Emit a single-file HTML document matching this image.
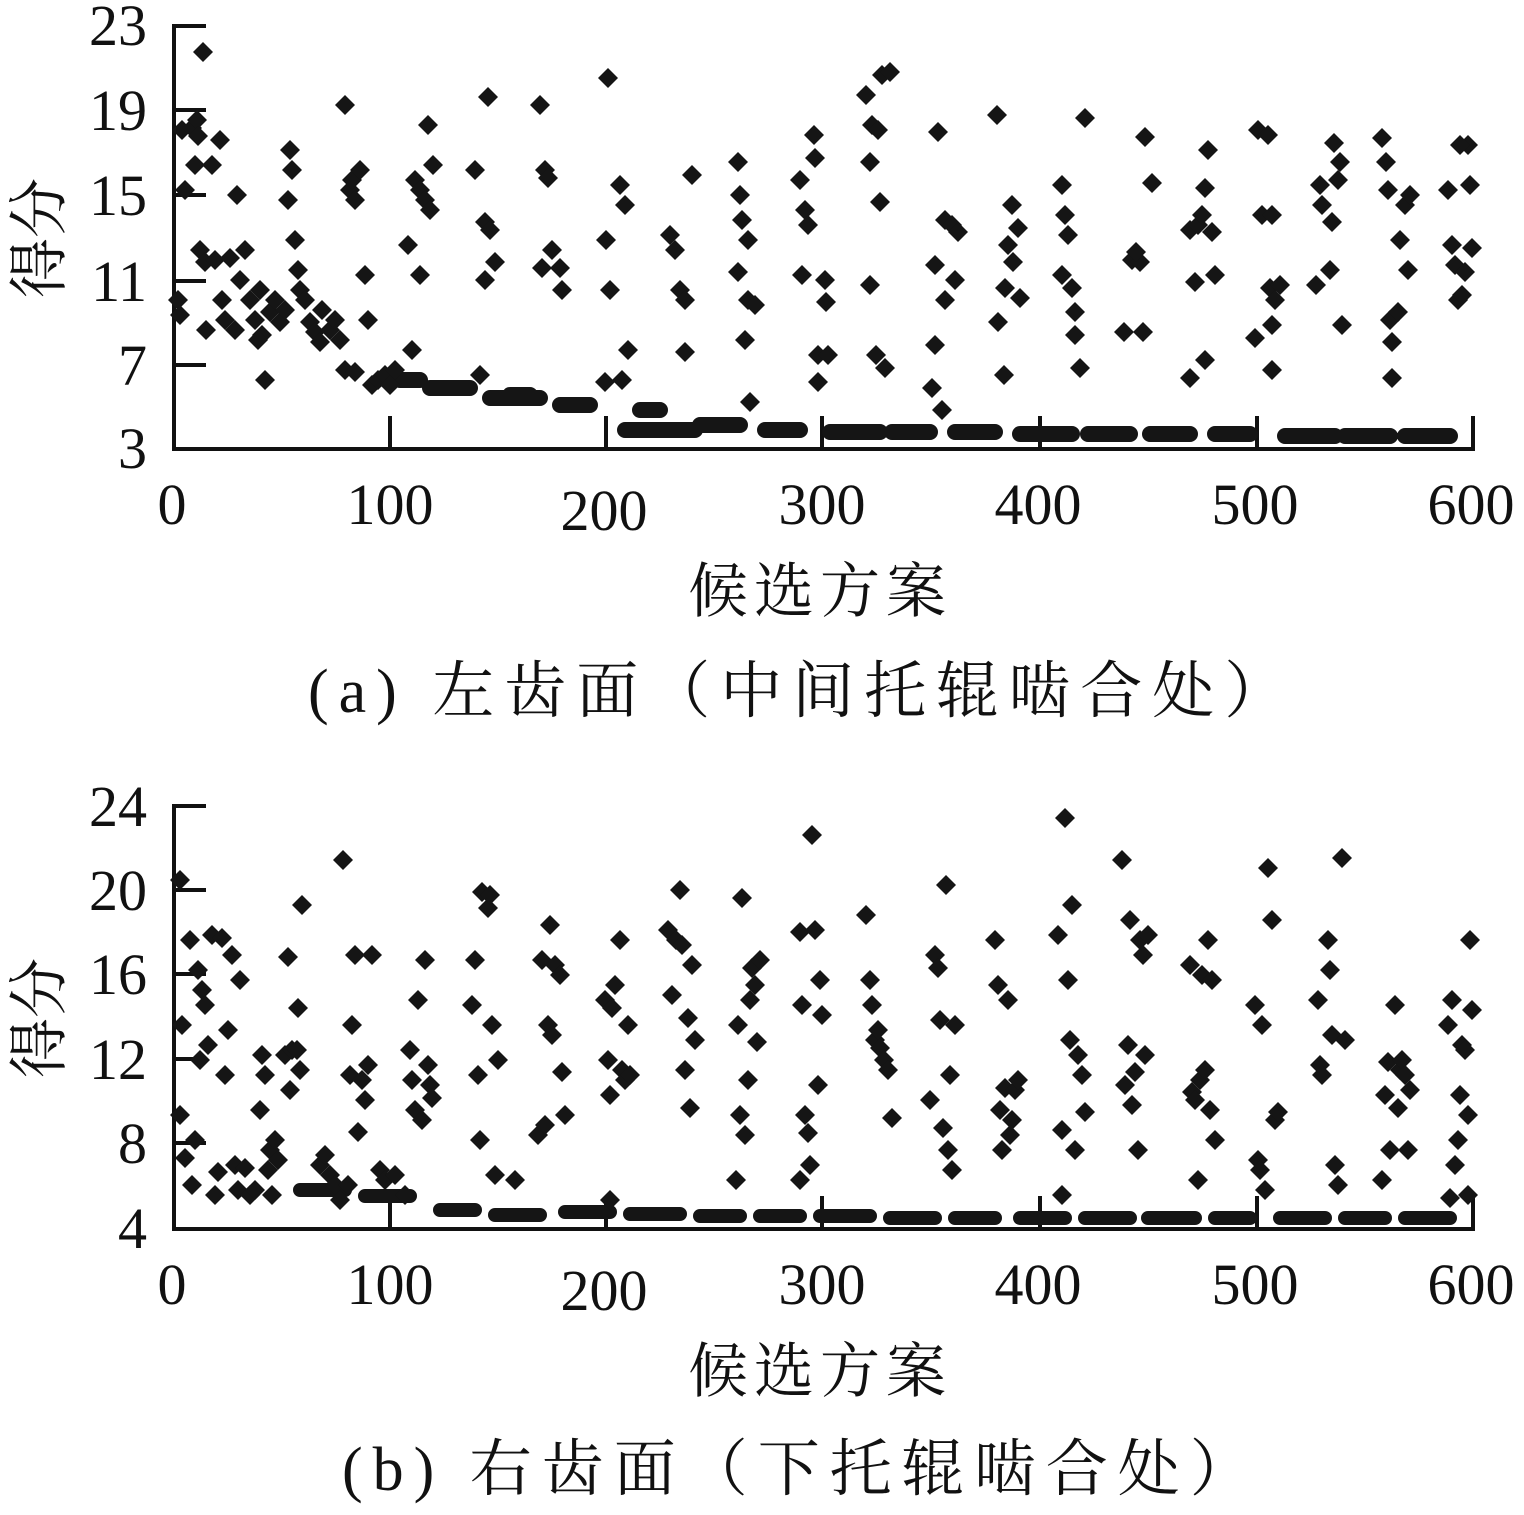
<!DOCTYPE html>
<html><head><meta charset="utf-8"><style>
html,body{margin:0;padding:0;background:#fff}
svg{display:block}
.t{font-family:"Liberation Serif",serif;font-size:58px;fill:#111}
.c{font-family:"Liberation Serif","Noto Serif CJK SC",serif;font-size:60px;fill:#111}
.cap{font-family:"Liberation Serif","Noto Serif CJK SC",serif;font-size:62px;fill:#111;letter-spacing:10px}
</style></head><body>
<svg width="1524" height="1515" viewBox="0 0 1524 1515" xmlns="http://www.w3.org/2000/svg">
<defs><path id="d" d="M0,-10 L10,0 L0,10 L-10,0Z" fill="#151515"/></defs>
<!-- TOP CHART -->
<g stroke="#111" stroke-width="4" fill="none">
<path d="M174,24 V449 H1475"/>
<path d="M174,26 H206 M174,110 H206 M174,195 H206 M174,281 H206 M174,365 H206"/>
<path d="M390,449 V416 M606,449 V416 M822,449 V416 M1040,449 V416 M1257,449 V416 M1473,449 V416"/>
</g>
<g class="t" text-anchor="end">
<text x="147" y="45">23</text><text x="147" y="130">19</text><text x="147" y="215">15</text><text x="147" y="301">11</text><text x="147" y="385">7</text><text x="147" y="468">3</text>
</g>
<g class="t" text-anchor="middle">
<text x="172" y="524">0</text><text x="390" y="524">100</text><text x="604" y="530">200</text><text x="822" y="524">300</text><text x="1038" y="524">400</text><text x="1255" y="524">500</text><text x="1471" y="524">600</text>
</g>
<text class="c" x="0" y="0" transform="translate(60,238) rotate(-90)" text-anchor="middle">得分</text>
<text class="c" x="820" y="612" text-anchor="middle" style="letter-spacing:6px">候选方案</text>
<text class="cap" x="308" y="712">(a)  左齿面（中间托辊啮合处）</text>
<g stroke="#151515" stroke-width="16" stroke-linecap="round">
<path d="M625,430 H695 M700,425 H740 M765,430 H800 M830,432 H880 M892,432 H930 M955,432 H995 M1020,434 H1072 M1088,434 H1130 M1150,434 H1190 M1215,434 H1250 M1285,436 H1335 M1345,436 H1390 M1405,436 H1450"/>
<path d="M490,398 H540 M560,405 H590 M510,395 H530 M400,380 H420 M430,388 H470 M640,410 H660"/>
</g>
<g>
<use href="#d" x="178" y="300"/><use href="#d" x="180" y="315"/><use href="#d" x="182" y="130"/><use href="#d" x="185" y="190"/><use href="#d" x="192" y="128"/><use href="#d" x="197" y="120"/><use href="#d" x="198" y="136"/><use href="#d" x="195" y="165"/><use href="#d" x="203" y="52"/><use href="#d" x="200" y="250"/><use href="#d" x="205" y="262"/><use href="#d" x="206" y="330"/><use href="#d" x="212" y="165"/><use href="#d" x="215" y="260"/><use href="#d" x="220" y="140"/><use href="#d" x="222" y="300"/><use href="#d" x="225" y="320"/><use href="#d" x="230" y="258"/><use href="#d" x="235" y="330"/><use href="#d" x="240" y="280"/><use href="#d" x="237" y="195"/><use href="#d" x="245" y="250"/><use href="#d" x="250" y="300"/><use href="#d" x="255" y="320"/><use href="#d" x="260" y="290"/><use href="#d" x="262" y="335"/><use href="#d" x="265" y="380"/><use href="#d" x="258" y="340"/><use href="#d" x="270" y="312"/><use href="#d" x="275" y="300"/><use href="#d" x="280" y="322"/><use href="#d" x="285" y="310"/><use href="#d" x="290" y="150"/><use href="#d" x="292" y="170"/><use href="#d" x="288" y="200"/><use href="#d" x="295" y="240"/><use href="#d" x="298" y="270"/><use href="#d" x="300" y="290"/><use href="#d" x="305" y="300"/><use href="#d" x="310" y="322"/><use href="#d" x="315" y="332"/><use href="#d" x="320" y="342"/><use href="#d" x="322" y="310"/><use href="#d" x="330" y="330"/><use href="#d" x="335" y="320"/><use href="#d" x="340" y="340"/><use href="#d" x="345" y="105"/><use href="#d" x="350" y="190"/><use href="#d" x="352" y="180"/><use href="#d" x="355" y="200"/><use href="#d" x="345" y="370"/><use href="#d" x="355" y="372"/><use href="#d" x="360" y="170"/><use href="#d" x="365" y="275"/><use href="#d" x="368" y="320"/><use href="#d" x="372" y="385"/><use href="#d" x="378" y="380"/><use href="#d" x="385" y="375"/><use href="#d" x="390" y="385"/><use href="#d" x="395" y="370"/><use href="#d" x="408" y="245"/><use href="#d" x="412" y="350"/><use href="#d" x="415" y="180"/><use href="#d" x="420" y="190"/><use href="#d" x="425" y="200"/><use href="#d" x="428" y="125"/><use href="#d" x="430" y="210"/><use href="#d" x="433" y="165"/><use href="#d" x="420" y="275"/><use href="#d" x="475" y="170"/><use href="#d" x="480" y="375"/><use href="#d" x="485" y="222"/><use href="#d" x="488" y="97"/><use href="#d" x="490" y="230"/><use href="#d" x="485" y="280"/><use href="#d" x="495" y="262"/><use href="#d" x="540" y="105"/><use href="#d" x="545" y="170"/><use href="#d" x="548" y="178"/><use href="#d" x="542" y="268"/><use href="#d" x="552" y="250"/><use href="#d" x="560" y="268"/><use href="#d" x="562" y="290"/><use href="#d" x="608" y="78"/><use href="#d" x="606" y="240"/><use href="#d" x="610" y="290"/><use href="#d" x="605" y="382"/><use href="#d" x="620" y="185"/><use href="#d" x="625" y="205"/><use href="#d" x="628" y="350"/><use href="#d" x="622" y="380"/><use href="#d" x="670" y="235"/><use href="#d" x="675" y="250"/><use href="#d" x="680" y="290"/><use href="#d" x="685" y="300"/><use href="#d" x="685" y="352"/><use href="#d" x="692" y="175"/><use href="#d" x="738" y="162"/><use href="#d" x="740" y="195"/><use href="#d" x="742" y="220"/><use href="#d" x="748" y="240"/><use href="#d" x="738" y="272"/><use href="#d" x="745" y="340"/><use href="#d" x="748" y="300"/><use href="#d" x="755" y="305"/><use href="#d" x="750" y="402"/><use href="#d" x="800" y="180"/><use href="#d" x="805" y="210"/><use href="#d" x="808" y="225"/><use href="#d" x="802" y="275"/><use href="#d" x="814" y="135"/><use href="#d" x="815" y="158"/><use href="#d" x="818" y="355"/><use href="#d" x="818" y="382"/><use href="#d" x="825" y="280"/><use href="#d" x="826" y="302"/><use href="#d" x="828" y="355"/><use href="#d" x="870" y="285"/><use href="#d" x="866" y="95"/><use href="#d" x="870" y="162"/><use href="#d" x="872" y="125"/><use href="#d" x="878" y="130"/><use href="#d" x="880" y="202"/><use href="#d" x="882" y="75"/><use href="#d" x="890" y="72"/><use href="#d" x="876" y="355"/><use href="#d" x="885" y="368"/><use href="#d" x="938" y="132"/><use href="#d" x="935" y="265"/><use href="#d" x="935" y="345"/><use href="#d" x="932" y="388"/><use href="#d" x="942" y="410"/><use href="#d" x="945" y="220"/><use href="#d" x="945" y="300"/><use href="#d" x="952" y="225"/><use href="#d" x="955" y="280"/><use href="#d" x="958" y="232"/><use href="#d" x="997" y="115"/><use href="#d" x="998" y="322"/><use href="#d" x="1005" y="288"/><use href="#d" x="1008" y="245"/><use href="#d" x="1012" y="205"/><use href="#d" x="1013" y="262"/><use href="#d" x="1018" y="228"/><use href="#d" x="1020" y="298"/><use href="#d" x="1004" y="375"/><use href="#d" x="1062" y="185"/><use href="#d" x="1062" y="275"/><use href="#d" x="1065" y="215"/><use href="#d" x="1068" y="235"/><use href="#d" x="1072" y="288"/><use href="#d" x="1075" y="312"/><use href="#d" x="1075" y="335"/><use href="#d" x="1080" y="368"/><use href="#d" x="1085" y="118"/><use href="#d" x="1132" y="260"/><use href="#d" x="1140" y="262"/><use href="#d" x="1136" y="252"/><use href="#d" x="1124" y="332"/><use href="#d" x="1143" y="332"/><use href="#d" x="1145" y="137"/><use href="#d" x="1152" y="183"/><use href="#d" x="1190" y="230"/><use href="#d" x="1190" y="378"/><use href="#d" x="1195" y="282"/><use href="#d" x="1198" y="225"/><use href="#d" x="1202" y="215"/><use href="#d" x="1205" y="188"/><use href="#d" x="1208" y="150"/><use href="#d" x="1205" y="360"/><use href="#d" x="1212" y="232"/><use href="#d" x="1215" y="275"/><use href="#d" x="1255" y="338"/><use href="#d" x="1258" y="130"/><use href="#d" x="1268" y="135"/><use href="#d" x="1262" y="215"/><use href="#d" x="1272" y="215"/><use href="#d" x="1270" y="288"/><use href="#d" x="1275" y="300"/><use href="#d" x="1272" y="325"/><use href="#d" x="1272" y="370"/><use href="#d" x="1280" y="285"/><use href="#d" x="1316" y="285"/><use href="#d" x="1320" y="185"/><use href="#d" x="1322" y="205"/><use href="#d" x="1330" y="270"/><use href="#d" x="1332" y="222"/><use href="#d" x="1334" y="143"/><use href="#d" x="1338" y="180"/><use href="#d" x="1340" y="162"/><use href="#d" x="1342" y="325"/><use href="#d" x="1382" y="138"/><use href="#d" x="1386" y="162"/><use href="#d" x="1388" y="190"/><use href="#d" x="1390" y="320"/><use href="#d" x="1392" y="342"/><use href="#d" x="1392" y="378"/><use href="#d" x="1398" y="312"/><use href="#d" x="1400" y="240"/><use href="#d" x="1405" y="205"/><use href="#d" x="1408" y="270"/><use href="#d" x="1410" y="195"/><use href="#d" x="1448" y="190"/><use href="#d" x="1452" y="245"/><use href="#d" x="1455" y="265"/><use href="#d" x="1458" y="300"/><use href="#d" x="1462" y="295"/><use href="#d" x="1465" y="272"/><use href="#d" x="1468" y="145"/><use href="#d" x="1470" y="185"/><use href="#d" x="1472" y="248"/><use href="#d" x="1460" y="145"/>
</g>

<!-- BOTTOM CHART -->
<g stroke="#111" stroke-width="4" fill="none">
<path d="M174,804 V1229 H1475"/>
<path d="M174,806 H206 M174,890 H206 M174,974 H206 M174,1059 H206 M174,1143 H206"/>
<path d="M390,1229 V1196 M606,1229 V1196 M822,1229 V1196 M1040,1229 V1196 M1257,1229 V1196 M1473,1229 V1196"/>
</g>
<g class="t" text-anchor="end">
<text x="147" y="826">24</text><text x="147" y="910">20</text><text x="147" y="994">16</text><text x="147" y="1079">12</text><text x="147" y="1163">8</text><text x="147" y="1248">4</text>
</g>
<g class="t" text-anchor="middle">
<text x="172" y="1304">0</text><text x="390" y="1304">100</text><text x="604" y="1310">200</text><text x="822" y="1304">300</text><text x="1038" y="1304">400</text><text x="1255" y="1304">500</text><text x="1471" y="1304">600</text>
</g>
<text class="c" x="0" y="0" transform="translate(60,1018) rotate(-90)" text-anchor="middle">得分</text>
<text class="c" x="820" y="1392" text-anchor="middle" style="letter-spacing:6px">候选方案</text>
<text class="cap" x="342" y="1490">(b)  右齿面（下托辊啮合处）</text>
<g stroke="#151515" stroke-width="14" stroke-linecap="round">
<path d="M440,1210 H475 M495,1215 H540 M565,1212 H610 M630,1214 H680 M700,1216 H740 M760,1216 H800 M820,1216 H870 M890,1218 H935 M955,1218 H995 M1020,1218 H1065 M1085,1218 H1130 M1148,1218 H1195 M1215,1218 H1250 M1280,1218 H1325 M1345,1218 H1385 M1405,1218 H1450 M365,1196 H410 M300,1190 H345"/>
</g>
<g>
<use href="#d" x="180" y="880"/><use href="#d" x="182" y="1025"/><use href="#d" x="180" y="1115"/><use href="#d" x="185" y="1158"/><use href="#d" x="190" y="940"/><use href="#d" x="195" y="1140"/><use href="#d" x="192" y="1185"/><use href="#d" x="198" y="970"/><use href="#d" x="202" y="990"/><use href="#d" x="205" y="1005"/><use href="#d" x="200" y="1060"/><use href="#d" x="208" y="1045"/><use href="#d" x="212" y="935"/><use href="#d" x="218" y="1172"/><use href="#d" x="215" y="1195"/><use href="#d" x="222" y="938"/><use href="#d" x="225" y="1075"/><use href="#d" x="228" y="1030"/><use href="#d" x="232" y="955"/><use href="#d" x="235" y="1165"/><use href="#d" x="238" y="1190"/><use href="#d" x="240" y="980"/><use href="#d" x="245" y="1168"/><use href="#d" x="250" y="1195"/><use href="#d" x="255" y="1190"/><use href="#d" x="262" y="1055"/><use href="#d" x="260" y="1110"/><use href="#d" x="265" y="1075"/><use href="#d" x="268" y="1170"/><use href="#d" x="270" y="1150"/><use href="#d" x="275" y="1140"/><use href="#d" x="272" y="1195"/><use href="#d" x="278" y="1160"/><use href="#d" x="285" y="1055"/><use href="#d" x="288" y="957"/><use href="#d" x="290" y="1090"/><use href="#d" x="292" y="1050"/><use href="#d" x="297" y="1050"/><use href="#d" x="300" y="1070"/><use href="#d" x="302" y="905"/><use href="#d" x="298" y="1008"/><use href="#d" x="320" y="1165"/><use href="#d" x="325" y="1155"/><use href="#d" x="330" y="1175"/><use href="#d" x="335" y="1185"/><use href="#d" x="340" y="1200"/><use href="#d" x="343" y="860"/><use href="#d" x="348" y="1185"/><use href="#d" x="350" y="1075"/><use href="#d" x="352" y="1025"/><use href="#d" x="355" y="955"/><use href="#d" x="358" y="1132"/><use href="#d" x="362" y="1080"/><use href="#d" x="365" y="1100"/><use href="#d" x="368" y="1065"/><use href="#d" x="372" y="955"/><use href="#d" x="380" y="1170"/><use href="#d" x="385" y="1180"/><use href="#d" x="395" y="1175"/><use href="#d" x="405" y="1195"/><use href="#d" x="410" y="1050"/><use href="#d" x="412" y="1080"/><use href="#d" x="415" y="1110"/><use href="#d" x="418" y="1000"/><use href="#d" x="422" y="1120"/><use href="#d" x="425" y="960"/><use href="#d" x="428" y="1065"/><use href="#d" x="430" y="1085"/><use href="#d" x="432" y="1098"/><use href="#d" x="472" y="1005"/><use href="#d" x="475" y="960"/><use href="#d" x="478" y="1075"/><use href="#d" x="480" y="1140"/><use href="#d" x="482" y="892"/><use href="#d" x="488" y="908"/><use href="#d" x="490" y="895"/><use href="#d" x="492" y="1025"/><use href="#d" x="495" y="1175"/><use href="#d" x="498" y="1060"/><use href="#d" x="515" y="1180"/><use href="#d" x="538" y="1135"/><use href="#d" x="542" y="960"/><use href="#d" x="545" y="1125"/><use href="#d" x="548" y="1025"/><use href="#d" x="550" y="925"/><use href="#d" x="552" y="1035"/><use href="#d" x="555" y="965"/><use href="#d" x="560" y="975"/><use href="#d" x="562" y="1072"/><use href="#d" x="565" y="1115"/><use href="#d" x="605" y="1000"/><use href="#d" x="608" y="1060"/><use href="#d" x="610" y="1095"/><use href="#d" x="612" y="1008"/><use href="#d" x="615" y="985"/><use href="#d" x="620" y="940"/><use href="#d" x="622" y="1070"/><use href="#d" x="625" y="1080"/><use href="#d" x="628" y="1025"/><use href="#d" x="630" y="1075"/><use href="#d" x="610" y="1200"/><use href="#d" x="668" y="930"/><use href="#d" x="672" y="995"/><use href="#d" x="676" y="940"/><use href="#d" x="680" y="890"/><use href="#d" x="682" y="945"/><use href="#d" x="685" y="1070"/><use href="#d" x="688" y="1018"/><use href="#d" x="690" y="1108"/><use href="#d" x="692" y="965"/><use href="#d" x="695" y="1040"/><use href="#d" x="738" y="1025"/><use href="#d" x="740" y="1115"/><use href="#d" x="742" y="898"/><use href="#d" x="745" y="1135"/><use href="#d" x="748" y="1080"/><use href="#d" x="750" y="1000"/><use href="#d" x="752" y="968"/><use href="#d" x="755" y="985"/><use href="#d" x="757" y="1042"/><use href="#d" x="760" y="960"/><use href="#d" x="736" y="1180"/><use href="#d" x="800" y="932"/><use href="#d" x="802" y="1005"/><use href="#d" x="805" y="1115"/><use href="#d" x="808" y="1133"/><use href="#d" x="810" y="1165"/><use href="#d" x="812" y="835"/><use href="#d" x="815" y="930"/><use href="#d" x="818" y="1085"/><use href="#d" x="820" y="980"/><use href="#d" x="822" y="1015"/><use href="#d" x="800" y="1180"/><use href="#d" x="866" y="915"/><use href="#d" x="870" y="980"/><use href="#d" x="872" y="1005"/><use href="#d" x="875" y="1040"/><use href="#d" x="878" y="1030"/><use href="#d" x="880" y="1048"/><use href="#d" x="884" y="1060"/><use href="#d" x="888" y="1070"/><use href="#d" x="892" y="1118"/><use href="#d" x="930" y="1100"/><use href="#d" x="935" y="955"/><use href="#d" x="938" y="968"/><use href="#d" x="940" y="1020"/><use href="#d" x="943" y="1128"/><use href="#d" x="946" y="885"/><use href="#d" x="948" y="1150"/><use href="#d" x="950" y="1075"/><use href="#d" x="952" y="1170"/><use href="#d" x="955" y="1025"/><use href="#d" x="995" y="940"/><use href="#d" x="998" y="985"/><use href="#d" x="1000" y="1110"/><use href="#d" x="1002" y="1150"/><use href="#d" x="1005" y="1088"/><use href="#d" x="1008" y="1000"/><use href="#d" x="1010" y="1135"/><use href="#d" x="1012" y="1120"/><use href="#d" x="1015" y="1090"/><use href="#d" x="1018" y="1080"/><use href="#d" x="1058" y="935"/><use href="#d" x="1062" y="1130"/><use href="#d" x="1062" y="1195"/><use href="#d" x="1065" y="818"/><use href="#d" x="1068" y="980"/><use href="#d" x="1070" y="1040"/><use href="#d" x="1072" y="905"/><use href="#d" x="1075" y="1150"/><use href="#d" x="1078" y="1055"/><use href="#d" x="1082" y="1075"/><use href="#d" x="1085" y="1112"/><use href="#d" x="1122" y="860"/><use href="#d" x="1125" y="1085"/><use href="#d" x="1128" y="1045"/><use href="#d" x="1130" y="920"/><use href="#d" x="1132" y="1105"/><use href="#d" x="1135" y="1072"/><use href="#d" x="1138" y="1150"/><use href="#d" x="1140" y="940"/><use href="#d" x="1143" y="955"/><use href="#d" x="1145" y="1055"/><use href="#d" x="1148" y="935"/><use href="#d" x="1190" y="965"/><use href="#d" x="1192" y="1092"/><use href="#d" x="1195" y="1100"/><use href="#d" x="1198" y="1180"/><use href="#d" x="1200" y="1080"/><use href="#d" x="1202" y="975"/><use href="#d" x="1205" y="1070"/><use href="#d" x="1208" y="940"/><use href="#d" x="1210" y="1110"/><use href="#d" x="1212" y="980"/><use href="#d" x="1215" y="1140"/><use href="#d" x="1255" y="1005"/><use href="#d" x="1258" y="1160"/><use href="#d" x="1260" y="1170"/><use href="#d" x="1262" y="1025"/><use href="#d" x="1265" y="1190"/><use href="#d" x="1268" y="868"/><use href="#d" x="1272" y="920"/><use href="#d" x="1275" y="1120"/><use href="#d" x="1278" y="1112"/><use href="#d" x="1318" y="1000"/><use href="#d" x="1320" y="1065"/><use href="#d" x="1322" y="1075"/><use href="#d" x="1328" y="940"/><use href="#d" x="1330" y="970"/><use href="#d" x="1332" y="1035"/><use href="#d" x="1335" y="1165"/><use href="#d" x="1338" y="1185"/><use href="#d" x="1342" y="858"/><use href="#d" x="1345" y="1040"/><use href="#d" x="1382" y="1180"/><use href="#d" x="1385" y="1095"/><use href="#d" x="1388" y="1062"/><use href="#d" x="1390" y="1150"/><use href="#d" x="1395" y="1005"/><use href="#d" x="1398" y="1108"/><use href="#d" x="1400" y="1070"/><use href="#d" x="1402" y="1060"/><use href="#d" x="1405" y="1075"/><use href="#d" x="1408" y="1150"/><use href="#d" x="1410" y="1090"/><use href="#d" x="1448" y="1025"/><use href="#d" x="1452" y="1000"/><use href="#d" x="1455" y="1165"/><use href="#d" x="1458" y="1140"/><use href="#d" x="1460" y="1095"/><use href="#d" x="1462" y="1045"/><use href="#d" x="1465" y="1050"/><use href="#d" x="1468" y="1115"/><use href="#d" x="1470" y="940"/><use href="#d" x="1472" y="1010"/><use href="#d" x="1468" y="1195"/><use href="#d" x="1450" y="1198"/>
</g>
</svg>
</body></html>
